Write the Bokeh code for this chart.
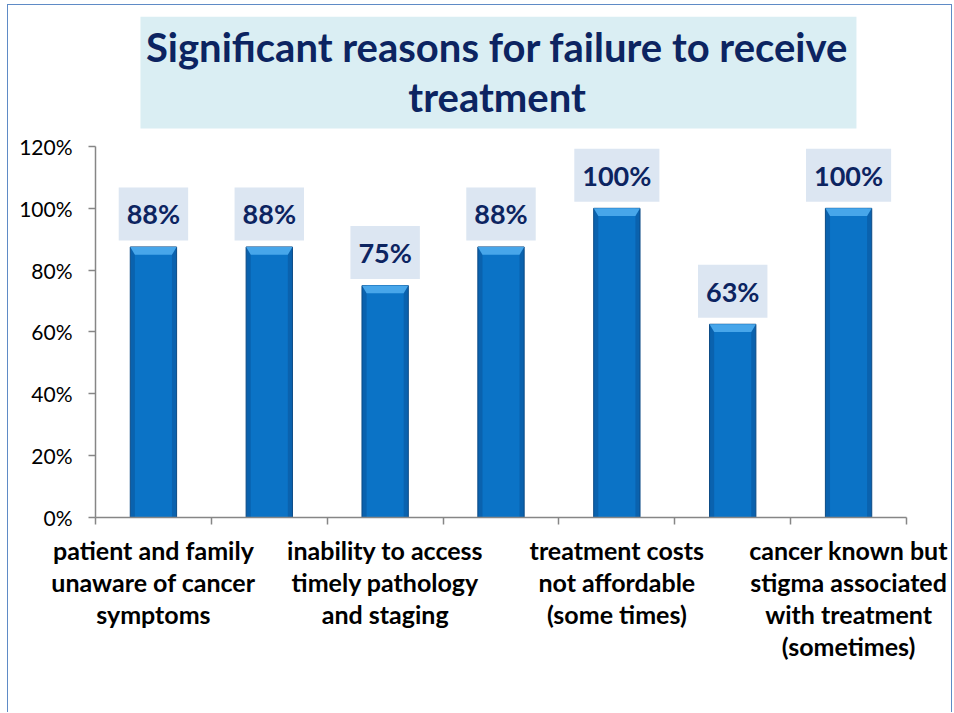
from bokeh.plotting import figure
from bokeh.models import FixedTicker, NumeralTickFormatter, BoxAnnotation, Label, ColumnDataSource
from bokeh.core.properties import value
from bokeh.embed import file_html
from bokeh.resources import INLINE

# ---- data ----
categories = [
    "patient and family\nunaware of cancer\nsymptoms",
    "",
    "inability to access\ntimely pathology\nand staging",
    "",
    "treatment costs\nnot affordable\n(some times)",
    "",
    "cancer known but\nstigma associated\nwith treatment\n(sometimes)",
]
values = [0.875, 0.875, 0.75, 0.875, 1.0, 0.625, 1.0]
value_labels = ["88%", "88%", "75%", "88%", "100%", "63%", "100%"]
y_ticks = [0.0, 0.2, 0.4, 0.6, 0.8, 1.0, 1.2]
title_lines = ["Significant reasons for failure to receive", "treatment"]

FONT = "Lato"
NAVY = "#0C2461"
AXIS_GRAY = "#868686"

xs = [i + 0.5 for i in range(len(values))]
src = ColumnDataSource(dict(x=xs, v=values, lab=value_labels))

p = figure(width=945, height=708, x_range=(0, len(values)), y_range=(0, 1.656),
           output_backend="svg", toolbar_location=None,
           min_border_left=87, min_border_right=47, min_border_top=0,
           min_border_bottom=196)
p.styles = {"margin-left": "7px", "margin-top": "4px",
            "border-left": "1px solid #5F8BC6", "border-top": "1px solid #5F8BC6",
            "border-right": "1px solid #5F8BC6"}
p.xgrid.visible = False
p.ygrid.visible = False
p.outline_line_color = None
p.background_fill_color = "white"

# title box + text
p.add_layout(BoxAnnotation(left=0.388, right=6.568, bottom=1.258, top=1.620,
                           fill_color="#DAEEF3", fill_alpha=1, line_color=None,
                           level="underlay"))
for ty, t in zip([1.522, 1.360], title_lines):
    p.add_layout(Label(x=3.466, y=ty, text=t, text_align="center",
                       text_baseline="middle", text_font=FONT, text_font_style="bold",
                       text_font_size="40px", text_color=NAVY))

# bars
p.vbar(x="x", top="v", bottom=0, width=0.4, source=src,
       fill_color="#0A62AE", line_color="#0B4A85", line_width=1)
p.vbar(x="x", top="v", bottom=0, width=0.32, source=src,
       fill_color="#0B73C6", line_color=None)
bx, by = [], []
for x0, v in zip(xs, values):
    bx.append([x0 - 0.2, x0 + 0.2, x0 + 0.16, x0 - 0.16])
    by.append([v, v, v - 0.025, v - 0.025])
p.patches(bx, by, fill_color="#47A6EA", line_color=None)

# value labels
p.text(x="x", y="v", text="lab", source=src, text_align="center",
       text_baseline="middle", y_offset=-33,
       text_font=value(FONT), text_font_style="bold", text_font_size="27px",
       text_color=NAVY, background_fill_color="#DCE6F2", padding=(8, 10))

# y axis
p.yaxis.ticker = FixedTicker(ticks=y_ticks)
p.yaxis.bounds = (0, 1.2)
p.yaxis.formatter = NumeralTickFormatter(format="0%")
p.yaxis.major_tick_out = 7
p.yaxis.major_tick_in = 0
p.yaxis.minor_tick_line_color = None
p.yaxis.axis_line_color = AXIS_GRAY
p.yaxis.major_tick_line_color = AXIS_GRAY
p.yaxis.axis_line_width = 1.5
p.yaxis.major_tick_line_width = 1.5
p.yaxis.major_label_text_font = FONT
p.yaxis.major_label_text_font_size = "21px"
p.yaxis.major_label_text_color = "black"
p.yaxis.major_label_standoff = 16

# x axis
lab_pos = [xs[i] for i, c in enumerate(categories) if c]
p.xaxis.ticker = FixedTicker(ticks=lab_pos, minor_ticks=list(range(len(values) + 1)))
p.xaxis.major_label_overrides = {xs[i]: c for i, c in enumerate(categories) if c}
p.xaxis.major_tick_out = 0
p.xaxis.major_tick_in = 0
p.xaxis.minor_tick_out = 7
p.xaxis.minor_tick_in = 0
p.xaxis.axis_line_color = AXIS_GRAY
p.xaxis.minor_tick_line_color = AXIS_GRAY
p.xaxis.axis_line_width = 1.5
p.xaxis.minor_tick_line_width = 1.5
p.xaxis.major_label_text_font = FONT
p.xaxis.major_label_text_font_style = "bold"
p.xaxis.major_label_text_font_size = "25px"
p.xaxis.major_label_text_color = "black"
p.xaxis.major_label_text_line_height = 1.07
p.xaxis.major_label_standoff = 10

open("out.html", "w").write(file_html(p, INLINE))
